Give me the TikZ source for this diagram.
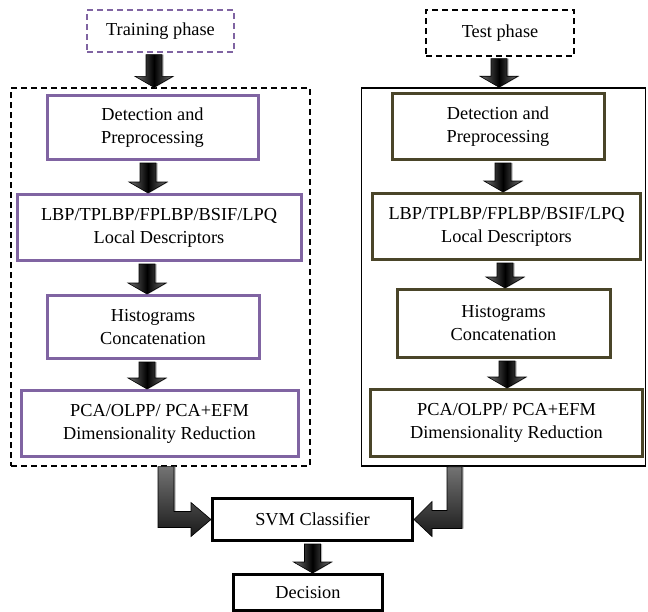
\documentclass[tikz,border=0pt]{standalone}
\usepackage{fontspec}
\setmainfont{Liberation Serif}
\usetikzlibrary{calc}
\definecolor{purp}{HTML}{8064A2}
\definecolor{oliv}{HTML}{4A4529}
\tikzset{
  txt/.style={align=center,inner sep=0pt,font=\fontsize{18.3}{23}\selectfont},
  lbox/.style={txt,draw=purp,line width=3pt},
  rbox/.style={txt,draw=oliv,line width=3pt},
  kbox/.style={txt,draw=black,line width=3pt},
  arrowsty/.style={draw=black,line width=0.6pt,left color=black!55,right color=black!55,middle color=black},
  bentsty/.style={draw=black,line width=0.6pt,top color=black!55,bottom color=black!90},
  shadowsty/.style={fill=black!30,draw=none},
}
\newcommand\dnshape[3]{({#1pt-8pt},#2) -- ({#1pt+8pt},#2) -- ({#1pt+8pt},#3+11pt) -- ({#1pt+19pt},#3+11pt) -- (#1pt,#3) -- ({#1pt-19pt},#3+11pt) -- ({#1pt-8pt},#3+11pt) -- cycle}
\newcommand\dnarrow[3]{%
  \begin{scope}[xshift=1.5pt,yshift=-1.5pt]
  \path[shadowsty] let \p1=(#2.south), \p2=(#3.north) in \dnshape{#1}{\y1-2pt}{\y2};
  \end{scope}
  \path[arrowsty] let \p1=(#2.south), \p2=(#3.north) in \dnshape{#1}{\y1-2pt}{\y2};}
\begin{document}
\begin{tikzpicture}[x=1pt,y=-1pt]
\useasboundingbox (0,0) rectangle (648,611);
% containers
\node[draw=black,line width=1.3pt,dash pattern=on 6pt off 4pt,minimum width=299pt,minimum height=378pt,inner sep=0pt] (Lbox) at (160.5,277) {};
\node[draw=black,line width=1.6pt,minimum width=284pt,minimum height=378pt,inner sep=0pt] (Rbox) at (503.5,277) {};
% phases
\node[txt,draw=purp,line width=1.3pt,dash pattern=on 6pt off 4pt,minimum width=147pt,minimum height=42pt] (train) at (160.5,31) {Training phase};
\node[txt,draw=black,line width=1.3pt,dash pattern=on 6pt off 4pt,minimum width=148pt,minimum height=46pt] (test) at (500,33) {Test phase};
% left boxes
\node[lbox,minimum width=211pt,minimum height=64pt] (Ldet) at (152.5,127.5) {Detection and\\Preprocessing};
\node[lbox,minimum width=284pt,minimum height=66pt] (Llbp) at (159,227.5) {LBP/TPLBP/FPLBP/BSIF/LPQ\\Local Descriptors};
\node[lbox,minimum width=212pt,minimum height=63pt] (Lhist) at (153,327) {Histograms\\Concatenation};
\node[lbox,minimum width=277pt,minimum height=66pt] (Lpca) at (159.5,423.5) {PCA/OLPP/ PCA+EFM\\Dimensionality Reduction};
% right boxes
\node[rbox,minimum width=212pt,minimum height=66pt] (Rdet) at (498,126.5) {Detection and\\Preprocessing};
\node[rbox,minimum width=268pt,minimum height=66pt] (Rlbp) at (506.5,226.5) {LBP/TPLBP/FPLBP/BSIF/LPQ\\Local Descriptors};
\node[rbox,minimum width=213pt,minimum height=68pt] (Rhist) at (503.5,323.5) {Histograms\\Concatenation};
\node[rbox,minimum width=272pt,minimum height=67pt] (Rpca) at (506.5,423) {PCA/OLPP/ PCA+EFM\\Dimensionality Reduction};
% bottom
\node[kbox,minimum width=200pt,minimum height=42pt] (svm) at (312.5,519.5) {SVM Classifier};
\node[kbox,minimum width=149pt,minimum height=36pt] (dec) at (308,592.5) {Decision};
% vertical arrows
\dnarrow{154}{train}{Lbox}
\dnarrow{148}{Ldet}{Llbp}
\dnarrow{147}{Llbp}{Lhist}
\dnarrow{147}{Lhist}{Lpca}
\dnarrow{499}{test}{Rbox}
\dnarrow{503}{Rdet}{Rlbp}
\dnarrow{505}{Rlbp}{Rhist}
\dnarrow{507}{Rhist}{Rpca}
\dnarrow{312.5}{svm}{dec}
% bent arrows
\begin{scope}[xshift=1.5pt,yshift=-1.5pt]
\path[shadowsty] let \p1=(Lbox.south), \p2=(svm.west) in
  (158pt,\y1) -- (174pt,\y1) -- (174pt,\y2+8pt) -- (\x2-20pt,\y2+8pt) -- (\x2-20pt,\y2+17pt) -- (\p2)
  -- (\x2-20pt,\y2-17pt) -- (\x2-20pt,\y2-8pt) -- (158pt,\y2-8pt) -- cycle;
\path[shadowsty] let \p1=(Rbox.south), \p2=(svm.east) in
  (462pt,\y1) -- (447pt,\y1) -- (447pt,\y2+9pt) -- (\x2+18pt,\y2+9pt) -- (\x2+18pt,\y2+18pt) -- (\p2)
  -- (\x2+18pt,\y2-17pt) -- (\x2+18pt,\y2-9pt) -- (462pt,\y2-9pt) -- cycle;
\end{scope}
\path[bentsty] let \p1=(Lbox.south), \p2=(svm.west) in
  (158pt,\y1) -- (174pt,\y1) -- (174pt,\y2+8pt) -- (\x2-20pt,\y2+8pt) -- (\x2-20pt,\y2+17pt) -- (\p2)
  -- (\x2-20pt,\y2-17pt) -- (\x2-20pt,\y2-8pt) -- (158pt,\y2-8pt) -- cycle;
\path[bentsty] let \p1=(Rbox.south), \p2=(svm.east) in
  (462pt,\y1) -- (447pt,\y1) -- (447pt,\y2+9pt) -- (\x2+18pt,\y2+9pt) -- (\x2+18pt,\y2+18pt) -- (\p2)
  -- (\x2+18pt,\y2-17pt) -- (\x2+18pt,\y2-9pt) -- (462pt,\y2-9pt) -- cycle;
\end{tikzpicture}
\end{document}
